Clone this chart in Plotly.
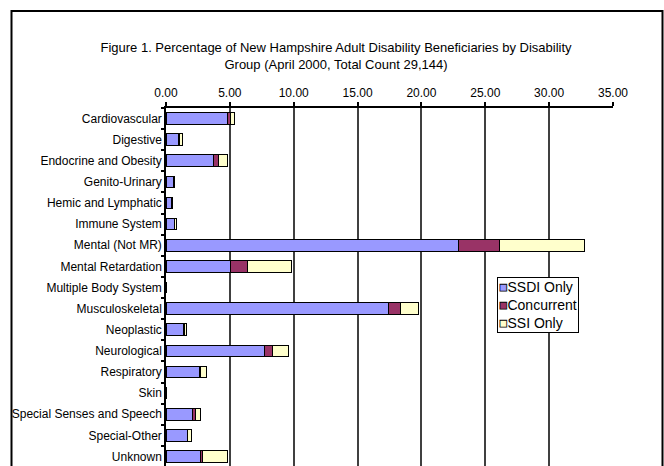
import plotly.graph_objects as go

# Disability groups, top to bottom
categories = [
    "Cardiovascular", "Digestive", "Endocrine and Obesity", "Genito-Urinary",
    "Hemic and Lymphatic", "Immune System", "Mental (Not MR)", "Mental Retardation",
    "Multiple Body System", "Musculoskeletal", "Neoplastic", "Neurological",
    "Respiratory", "Skin", "Special Senses and Speech", "Special-Other", "Unknown",
]

# Percentage of all adult beneficiaries in each group, by program
ssdi_only = [4.85, 1.00, 3.70, 0.55, 0.45, 0.65, 22.90, 5.05, 0.00, 17.45,
             1.35, 7.70, 2.60, 0.00, 2.05, 1.65, 2.70]
concurrent = [0.20, 0.05, 0.40, 0.05, 0.02, 0.05, 3.20, 1.30, 0.00, 0.90,
              0.10, 0.60, 0.10, 0.00, 0.25, 0.05, 0.15]
ssi_only = [0.35, 0.25, 0.75, 0.10, 0.03, 0.12, 6.70, 3.50, 0.00, 1.45,
            0.15, 1.30, 0.50, 0.00, 0.40, 0.30, 1.95]

series_names = ["SSDI Only", "Concurrent", "SSI Only"]
series_colors = ["#9999FF", "#993366", "#FFFFCC"]
x_ticks = [0, 5, 10, 15, 20, 25, 30, 35]

FONT = "Liberation Sans, Arial, sans-serif"

fig = go.Figure()
for name, vals, col in zip(series_names, [ssdi_only, concurrent, ssi_only], series_colors):
    fig.add_trace(go.Bar(
        name=name, y=categories, x=vals, orientation="h",
        marker=dict(color=col, line=dict(color="black", width=1)),
        showlegend=False,
    ))

# Compact bordered key placed inside the plot area
key_lines = [
    f"<span style='fill:{c};stroke:#000;stroke-width:0.8px'>\u25A0</span>{n}"
    for n, c in zip(series_names, series_colors)
]

L, R, T, B = 166, 51, 108, 0
W, H = 664, 466
pw, ph = W - L - R, H - T - B

def px_x(px):
    return (px - L) / pw

def px_y(py):
    return (H - py) / ph

fig.update_layout(
    width=W, height=H,
    margin=dict(l=L, r=R, t=T, b=B, pad=0),
    paper_bgcolor="white", plot_bgcolor="white",
    barmode="stack", bargap=0.45,
    font=dict(family=FONT, size=12, color="black"),
    title=dict(
        text="Figure 1. Percentage of New Hampshire Adult Disability Beneficiaries by Disability<br>"
             "Group (April 2000, Total Count 29,144)",
        x=336 / W, xref="container", xanchor="center",
        y=1 - 52 / H, yref="container", yanchor="middle",
        font=dict(family=FONT, size=13, color="black"),
    ),
    xaxis=dict(
        side="top", range=[0, 35], tickvals=x_ticks, tickformat=".2f",
        showgrid=True, gridcolor="#404040", gridwidth=1.5,
        showline=True, linecolor="black", linewidth=1.5,
        ticks="outside", ticklen=4, tickcolor="black", tickwidth=1.5,
        zeroline=False, fixedrange=True,
        tickfont=dict(family=FONT, size=12, color="black"),
    ),
    yaxis=dict(
        type="category", categoryorder="array", categoryarray=categories,
        range=[16.45, -0.5],
        showgrid=False, zeroline=False,
        showline=True, linecolor="black", linewidth=1.5,
        ticks="outside", ticklen=3, tickcolor="black", tickwidth=1.5,
        tickson="boundaries",
        tickfont=dict(family=FONT, size=12, color="black"),
    ),
    shapes=[dict(
        type="rect", xref="paper", yref="paper",
        x0=px_x(11.5), x1=px_x(662.5), y0=px_y(480), y1=px_y(11),
        line=dict(color="black", width=2), fillcolor="rgba(0,0,0,0)", layer="above",
    )],
    annotations=[dict(
        xref="paper", yref="paper", x=px_x(497), y=px_y(277),
        xanchor="left", yanchor="top", align="left", showarrow=False,
        text="<br>".join(key_lines),
        font=dict(family=FONT, size=14, color="black"),
        bgcolor="white", bordercolor="black", borderwidth=1, borderpad=1,
    )],
)

fig.write_html("out.html")
